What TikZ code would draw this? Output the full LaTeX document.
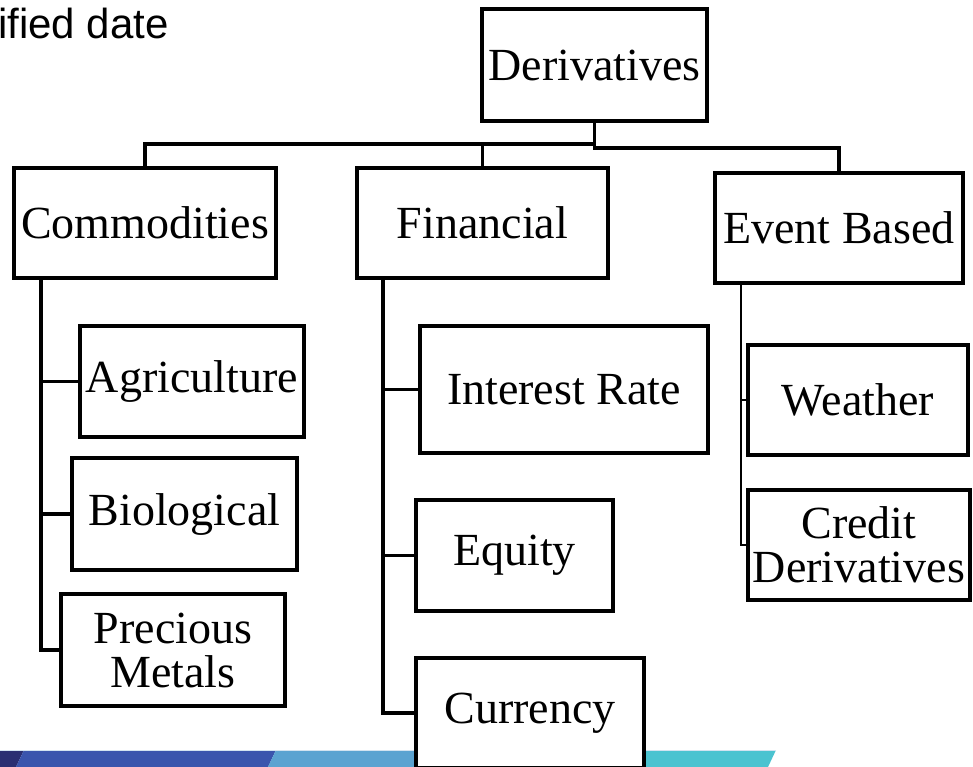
\documentclass[tikz,border=0pt]{standalone}
\usepackage{fontspec}
\setmainfont{Liberation Serif}
\newfontfamily\labelsans{Liberation Sans}
\definecolor{bandnavy}{HTML}{2A2F72}
\definecolor{bandblue}{HTML}{3A55AD}
\definecolor{bandsky}{HTML}{5BA3D1}
\definecolor{bandcyan}{HTML}{4BC3D0}
\definecolor{bandedge}{HTML}{D3E3F0}
\begin{document}
\begin{tikzpicture}[x=1pt,y=-1pt,
  box/.style={draw=black, line width=3.2pt, fill=white, inner sep=0pt,
    align=center, font=\fontsize{46}{44}\selectfont},
  link/.style={draw=black, line width=3.2pt},
  thinlink/.style={draw=black, line width=2.4pt}]
\useasboundingbox (0,0) rectangle (973,767);

% footer band
\fill[bandnavy] (0,750) -- (24,750) -- (16,767) -- (0,767) -- cycle;
\fill[bandblue] (24,750) -- (276,750) -- (268,767) -- (16,767) -- cycle;
\fill[bandsky]  (276,750) -- (540,750) -- (532,767) -- (268,767) -- cycle;
\fill[bandcyan] (540,750) -- (776,750) -- (768,767) -- (532,767) -- cycle;
\draw[bandedge, line width=1pt] (0,750) -- (776,750);

% header text
\node[anchor=base west, inner sep=0pt, font=\labelsans\fontsize{42}{46}\selectfont]
  (hdr) at (-2,39) {ified date};

% top level
\node[box, minimum width=225pt, minimum height=112pt] (der) at (594.5,65) {Derivatives};

% second level
\node[box, minimum width=262pt, minimum height=110pt] (com) at (145,223) {Commodities};
\node[box, minimum width=251pt, minimum height=110pt] (fin) at (482.5,223) {Financial};
\node[box, minimum width=248pt, minimum height=110pt] (evt) at (839,228) {Event Based};

% commodities
\node[box, minimum width=224pt, minimum height=111pt] (agr) at (192,381.5) {Agriculture};
\node[box, minimum width=225pt, minimum height=112pt] (bio) at (184.5,514) {Biological};
\node[box, minimum width=224pt, minimum height=112pt] (pm)  at (173,650) {Precious\\Metals};

% financial
\node[box, minimum width=288pt, minimum height=127pt] (ir)  at (564,389.5) {Interest Rate};
\node[box, minimum width=197pt, minimum height=111pt] (eq)  at (514.5,555.5) {Equity};
\node[box, minimum width=228pt, minimum height=110pt] (cur) at (530,713) {Currency};

% event based
\node[box, minimum width=220pt, minimum height=110pt] (wea) at (858,400) {Weather};
\node[box, minimum width=222pt, minimum height=110pt] (cd)  at (859,545) {Credit\\Derivatives};

% top connectors
\coordinate (splitL) at (594.5,144);
\coordinate (splitR) at (594.5,148);
\draw[link] (der.south) -- (splitR) -| (evt.north);
\draw[link] (splitL) -| (com.north);
\draw[link] (fin.north) -- (fin.north |- splitL);

% commodities trunk
\coordinate (comtop) at (41,278);
\draw[link] (comtop) |- (pm.west);
\draw[link] (comtop |- agr.west) -- (agr.west);
\draw[link] (comtop |- bio.west) -- (bio.west);

% financial trunk
\coordinate (fintop) at (383,278);
\draw[link] (fintop) |- (cur.west);
\draw[link] (fintop |- ir.west) -- (ir.west);
\draw[link] (fintop |- eq.west) -- (eq.west);

% event based trunk
\coordinate (evttop) at (741,283);
\draw[thinlink] (evttop) |- (cd.west);
\draw[thinlink] (evttop |- wea.west) -- (wea.west);
\end{tikzpicture}
\end{document}
